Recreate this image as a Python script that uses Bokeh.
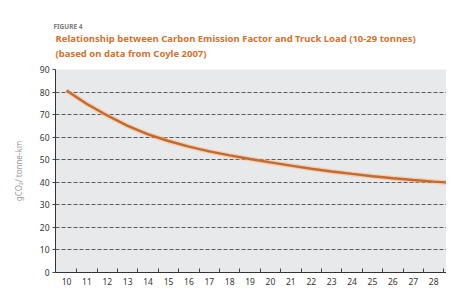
from bokeh.plotting import figure
from bokeh.models import Range1d, FixedTicker, Title, ColumnDataSource
from bokeh.embed import file_html
from bokeh.resources import INLINE

# Data
truck_load = [10, 11, 12, 13, 14, 15, 16, 17, 18, 19, 20, 21, 22, 23, 24, 25, 26, 27, 28, 29]
emission = [80.7, 74.7, 69.6, 65.0, 61.2, 58.3, 55.8, 53.7, 51.9, 50.3, 48.8, 47.4, 46.0,
            44.8, 43.7, 42.7, 41.8, 41.0, 40.3, 39.7]
y_ticks = [0, 10, 20, 30, 40, 50, 60, 70, 80, 90]
x_ticks = truck_load
x_minor = [v + 0.5 for v in truck_load[:-1]]

title_small = "FIGURE 4"
title_line1 = "Relationship between Carbon Emission Factor and Truck Load (10-29 tonnes)"
title_line2 = "(based on data from Coyle 2007)"
y_label = "gCO\u2082/ tonne-km"

FONT = "Noto Sans"
ORANGE = "#d4722f"

p = figure(width=446, height=290, output_backend="svg", toolbar_location=None,
           x_range=Range1d(9.46, 28.63), y_range=Range1d(0, 90),
           min_border_left=55, min_border_right=0, min_border_bottom=18, min_border_top=0)
p.title.text = ""

# stacked titles: first added sits nearest the plot
spacer = Title(text=" ", text_font=FONT, text_font_size="1px", standoff=7.5)
t2 = Title(text=title_line2, text_font=FONT, text_font_size="9.5px", text_font_style="bold",
           text_color=ORANGE, standoff=-2.2, offset=0)
t1 = Title(text=title_line1, text_font=FONT, text_font_size="9.5px", text_font_style="bold",
           text_color=ORANGE, standoff=0.4, offset=0)
t0 = Title(text=title_small, text_font=FONT, text_font_size="6.5px", text_font_style="bold",
           text_color="#7a7a7a", standoff=-1, offset=-2)
spacer_top = Title(text=" ", text_font=FONT, text_font_size="1px", standoff=16.2)
p.add_layout(spacer, "above")
p.add_layout(t2, "above")
p.add_layout(t1, "above")
p.add_layout(t0, "above")
p.add_layout(spacer_top, "above")

p.background_fill_color = "#e8e9eb"
p.border_fill_color = "white"
p.outline_line_color = None

src = ColumnDataSource(dict(x=truck_load, y=emission))
p.line("x", "y", source=src, line_color="#f6b07a", line_width=5, line_alpha=0.45)
p.line("x", "y", source=src, line_color="#c56a2c", line_width=2.4)

# grid
p.xgrid.grid_line_color = None
p.ygrid.ticker = FixedTicker(ticks=y_ticks[1:])
p.ygrid.grid_line_color = "#5a5a5a"
p.ygrid.grid_line_dash = "4 2"
p.ygrid.grid_line_width = 1

# x axis
xa = p.xaxis[0]
xa.ticker = FixedTicker(ticks=x_ticks, minor_ticks=x_minor)
xa.major_tick_in = 0
xa.major_tick_out = 0
xa.minor_tick_in = 4
xa.minor_tick_out = 0
xa.minor_tick_line_color = "#444444"
xa.axis_line_color = "#333333"
xa.major_label_text_font = FONT
xa.major_label_text_font_size = "8.5px"
xa.major_label_text_color = "#333333"
xa.major_label_standoff = 5

# y axis
ya = p.yaxis[0]
ya.ticker = FixedTicker(ticks=y_ticks)
ya.major_tick_in = 0
ya.major_tick_out = 3
ya.minor_tick_line_color = None
ya.major_tick_line_color = "#444444"
ya.axis_line_color = "#333333"
ya.major_label_text_font = FONT
ya.major_label_text_font_size = "8.5px"
ya.major_label_text_color = "#333333"
ya.major_label_standoff = 3
ya.axis_label = y_label
ya.axis_label_text_font = FONT
ya.axis_label_text_font_size = "8px"
ya.axis_label_text_font_style = "normal"
ya.axis_label_text_color = "#9a9a9a"
ya.axis_label_standoff = 13

open("out.html", "w").write(file_html(p, INLINE))
